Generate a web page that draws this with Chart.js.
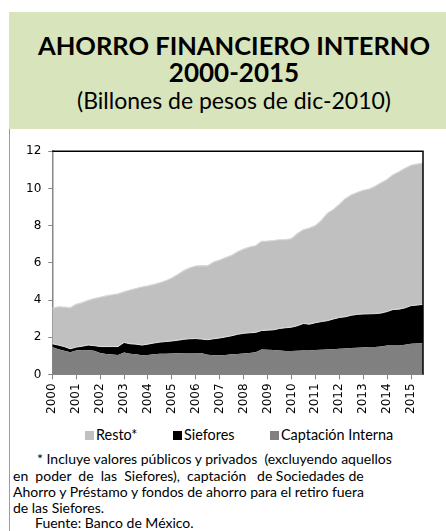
<!DOCTYPE html>
<html>
<head>
<meta charset="utf-8">
<script src="https://cdn.jsdelivr.net/npm/chart.js@4.4.1/dist/chart.umd.min.js"></script>
<style>
	body { margin: 0; background: #fff; width: 446px; height: 531px; overflow: hidden; position: relative; font-family: Lato, sans-serif; color: #000; }
	#head { position: absolute; left: 9px; top: 12px; width: 437px; height: 117px; background: #d8e4bc; }
	.t { position: absolute; left: 22px; width: 424px; text-align: center; line-height: 1.2; white-space: nowrap; }
	#t1 { top: 30px; font-size: 25.5px; font-weight: bold; }
	#t2 { top: 57px; font-size: 26px; font-weight: bold; }
	#t3 { top: 87px; font-size: 23px; }
	#rule { position: absolute; left: 9px; top: 129px; width: 1px; height: 402px; background: #9c9c9c; }
	#wrap { position: absolute; left: 10px; top: 137px; width: 436px; height: 288px; }
	.lg { position: absolute; top: 426px; font-size: 14.4px; line-height: 17px; white-space: nowrap; }
	.lg i { display: inline-block; width: 9px; height: 9px; margin-right: 2px; vertical-align: 0px; }
	.n { position: absolute; font-size: 14px; line-height: 16px; white-space: pre; }
</style>
</head>
<body>
<div id="head"></div>
<div class="t" id="t1">AHORRO FINANCIERO INTERNO</div>
<div class="t" id="t2">2000-2015</div>
<div class="t" id="t3">(Billones de pesos de dic-2010)</div>
<div id="rule"></div>
<div id="wrap"><canvas id="ahorroChart"></canvas></div>
<div id="legend"></div>
<div class="n" style="left:37px; top:451px;">* Incluye valores públicos y privados  (excluyendo aquellos</div>
<div class="n" style="left:13px; top:468px;">en  poder  de  las  Siefores),  captación   de Sociedades de</div>
<div class="n" style="left:13px; top:484px;">Ahorro y Préstamo y fondos de ahorro para el retiro fuera</div>
<div class="n" style="left:13px; top:500px;">de las Siefores.</div>
<div class="n" style="left:35px; top:515px;">Fuente: Banco de México.</div>
<script>
"use strict";

// trimestres (ene, abr, jul, oct)
var periods = [
	"2000-01", "2000-04", "2000-07", "2000-10",
	"2001-01", "2001-04", "2001-07", "2001-10",
	"2002-01", "2002-04", "2002-07", "2002-10",
	"2003-01", "2003-04", "2003-07", "2003-10",
	"2004-01", "2004-04", "2004-07", "2004-10",
	"2005-01", "2005-04", "2005-07", "2005-10",
	"2006-01", "2006-04", "2006-07", "2006-10",
	"2007-01", "2007-04", "2007-07", "2007-10",
	"2008-01", "2008-04", "2008-07", "2008-10",
	"2009-01", "2009-04", "2009-07", "2009-10",
	"2010-01", "2010-04", "2010-07", "2010-10",
	"2011-01", "2011-04", "2011-07", "2011-10",
	"2012-01", "2012-04", "2012-07", "2012-10",
	"2013-01", "2013-04", "2013-07", "2013-10",
	"2014-01", "2014-04", "2014-07", "2014-10",
	"2015-01", "2015-04", "2015-07"
];

var captacion = [
	1.47, 1.36, 1.28, 1.20,  1.29, 1.32, 1.30, 1.27,
	1.15, 1.10, 1.07, 1.04,  1.18, 1.11, 1.08, 1.03,
	1.05, 1.09, 1.11, 1.11,  1.12, 1.14, 1.15, 1.15,
	1.16, 1.14, 1.06, 1.03,  1.03, 1.05, 1.09, 1.10,
	1.13, 1.15, 1.19, 1.34,  1.33, 1.32, 1.29, 1.26,
	1.26, 1.28, 1.29, 1.29,  1.31, 1.33, 1.34, 1.36,
	1.38, 1.40, 1.42, 1.43,  1.45, 1.47, 1.47, 1.50,
	1.55, 1.56, 1.56, 1.60,  1.65, 1.67, 1.68
];

var siefores = [
	0.18, 0.22, 0.22, 0.18,  0.18, 0.20, 0.28, 0.28,
	0.35, 0.40, 0.43, 0.46,  0.54, 0.54, 0.55, 0.55,
	0.58, 0.60, 0.63, 0.66,  0.68, 0.70, 0.74, 0.77,
	0.77, 0.76, 0.81, 0.89,  0.93, 0.97, 0.99, 1.06,
	1.08, 1.09, 1.07, 1.02,  1.05, 1.08, 1.18, 1.25,
	1.28, 1.34, 1.45, 1.41,  1.47, 1.51, 1.55, 1.62,
	1.68, 1.70, 1.76, 1.80,  1.80, 1.79, 1.80, 1.80,
	1.83, 1.93, 1.95, 1.98,  2.05, 2.06, 2.09
];

var resto = [
	1.90, 2.06, 2.12, 2.20,  2.30, 2.34, 2.40, 2.53,
	2.65, 2.72, 2.78, 2.83,  2.72, 2.89, 2.99, 3.12,
	3.13, 3.15, 3.19, 3.27,  3.38, 3.53, 3.69, 3.81,
	3.90, 3.95, 3.97, 4.12,  4.19, 4.26, 4.32, 4.44,
	4.53, 4.61, 4.66, 4.80,  4.79, 4.80, 4.77, 4.73,
	4.76, 4.96, 5.04, 5.17,  5.22, 5.44, 5.77, 5.88,
	6.08, 6.35, 6.47, 6.55,  6.65, 6.70, 6.85, 7.00,
	7.10, 7.25, 7.39, 7.50,  7.54, 7.58, 7.59
];

// ejes: 0-12 cada 2, años 2000-2015
var yMin = 0, yMax = 12, yStep = 2;
var firstYear = 2000, yearStep = 1;

var seriesNames = ["Captación Interna", "Siefores", "Resto*"];
var seriesColors = ["#808080", "#000000", "#c0c0c0"];

// "2003-07" -> 2003.5
function toYear(p) {
	var parts = p.split("-");
	return Number(parts[0]) + (Number(parts[1]) - 1) / 12;
}

function points(values) {
	return periods.map(function (p, i) {
		return { x: toYear(p), y: values[i] };
	});
}

// legend (html), same order as the original: Resto*, Siefores, Captación
var legendDiv = document.getElementById("legend");
var legendLeft = [85, 173, 270];
[2, 1, 0].forEach(function (s, k) {
	var item = document.createElement("div");
	item.className = "lg";
	item.style.left = legendLeft[k] + "px";
	item.innerHTML = '<i style="background:' + seriesColors[s] + '"></i>' + seriesNames[s];
	legendDiv.appendChild(item);
});

// black top/right frame of the plot area
var plotFrame = {
	id: "plotFrame",
	afterDatasetsDraw: function (chart) {
		var ctx = chart.ctx;
		var a = chart.chartArea;
		ctx.save();
		ctx.strokeStyle = "#000";
		ctx.lineWidth = 1.5;
		ctx.beginPath();
		ctx.moveTo(a.left, a.top);
		ctx.lineTo(a.right, a.top);
		ctx.lineTo(a.right, a.bottom);
		ctx.stroke();
		ctx.restore();
	}
};

var ctx = document.getElementById("ahorroChart");
var ahorroChart = new Chart(ctx, {
	type: "line",
	data: {
		datasets: [{
			label: seriesNames[0],
			data: points(captacion),
			backgroundColor: seriesColors[0],
			borderColor: seriesColors[0],
			borderWidth: 0,
			fill: "origin"
		}, {
			label: seriesNames[1],
			data: points(siefores),
			backgroundColor: seriesColors[1],
			borderColor: "#e4e4e4",
			borderWidth: 1,
			fill: "-1"
		}, {
			label: seriesNames[2],
			data: points(resto),
			backgroundColor: seriesColors[2],
			borderColor: "#d6d6d6",
			borderWidth: 1.2,
			fill: "-1"
		}]
	},
	options: {
		responsive: true,
		maintainAspectRatio: false,
		animation: false,
		elements: {
			point: { radius: 0, hoverRadius: 0 },
			line: { tension: 0 }
		},
		layout: {
			padding: { left: 9, right: 23, top: 5, bottom: 7 }
		},
		plugins: {
			legend: { display: false },
			tooltip: { enabled: false }
		},
		scales: {
			x: {
				type: "linear",
				min: firstYear,
				max: toYear(periods[periods.length - 1]),
				ticks: {
					stepSize: yearStep,
					includeBounds: false,
					minRotation: 90,
					maxRotation: 90,
					padding: 4,
					color: "#000",
					font: { family: "DejaVu Sans", size: 12 },
					callback: function (value) { return String(value); }
				},
				grid: {
					drawOnChartArea: false,
					tickLength: 5,
					color: "#868686"
				},
				border: { color: "#868686" }
			},
			y: {
				stacked: true,
				min: yMin,
				max: yMax,
				ticks: {
					stepSize: yStep,
					padding: 7,
					color: "#000",
					font: { family: "DejaVu Sans", size: 12 }
				},
				grid: {
					drawOnChartArea: false,
					tickLength: 4,
					color: "#868686"
				},
				border: { color: "#868686", width: 1.5 }
			}
		}
	},
	plugins: [plotFrame]
});
</script>
</body>
</html>
